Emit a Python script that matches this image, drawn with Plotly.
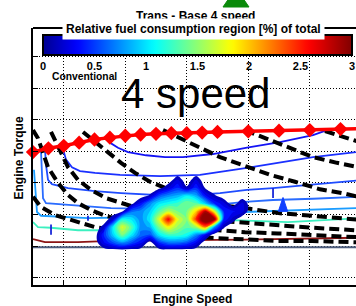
import plotly.graph_objects as go

# ---------------- data ----------------
# full-load (max torque) curve
wot_rpm = [500, 750, 1000, 1250, 1500, 1750, 2000, 2250, 2500, 2750, 3000, 3250, 3500, 4000, 4500, 5000, 5500, 6000]
wot_tq = [199, 205, 209, 214, 219, 222, 225, 227, 228, 229, 229, 230, 231, 232, 233, 234, 235.5, 236.5]

# black dashed lines
d0_rpm = [500, 630, 858, 1118, 1508, 2077, 2728, 3378, 3947, 4484, 5037, 5752, 6000]
d0_tq = [128, 112, 99, 91, 80, 72, 66, 63, 60, 58, 58, 56, 55]
d1_rpm = [500, 581, 663, 744, 907, 1069, 1232, 1443, 1671, 2077, 2565, 3215, 3947, 4484, 5037, 5752, 6000]
d1_tq = [234, 221, 198, 175, 150, 131, 118, 107, 98, 88, 82, 77, 72, 70, 67, 64, 63]
d2_rpm = [793, 955, 1069, 1232, 1443, 1687, 1931, 2240, 2565, 3053, 3541, 3947, 4484, 5037, 5752, 6000]
d2_tq = [231, 198, 175, 155, 139, 126, 118, 109, 101, 94, 90, 87, 82, 79, 75, 74]
d3_rpm = [1313, 1508, 1720, 1931, 2159, 2402, 2728, 3053, 3378, 3703, 4028, 4516, 5037, 5573, 5752, 6000]
d3_tq = [231, 215, 198, 182, 166, 152, 139, 128, 120, 113, 109, 102, 98, 93, 91, 90]
d4_rpm = [2614, 2890, 3215, 3541, 3947, 4354, 4760, 5167, 5573, 5752, 6000]
d4_tq = [234, 221, 206, 191, 177, 163, 152, 140, 133, 129, 126]
d5_rpm = [3947, 4305, 4679, 5053, 5443, 5752, 6000]
d5_tq = [234, 220, 204, 191, 182, 175, 171]
d6_rpm = [5248, 5492, 5752, 6000]
d6_tq = [232.5, 224.6, 216.7, 209]

# solid contour lines
c1_rpm = [1720, 1768, 1882, 2045, 2338, 2646, 2939, 3427, 3980, 4516, 5053, 5281]
c1_tq = [223, 213, 206, 199, 194, 191, 191, 196, 206, 215, 226, 234]
c2_rpm = [972, 1037, 1134, 1264, 1508, 1915, 2565, 3215, 3980, 4516, 5053, 5752, 6000]
c2_tq = [209, 187, 175, 169, 166, 163, 161, 163, 174, 183, 191, 199, 203]
c3_rpm = [695, 711, 744, 809, 1069, 1508, 1931, 2402, 2890, 3541, 3980, 4403, 5053, 5752, 6000]
c3_tq = [204, 179, 155, 148, 142, 137, 134, 131, 129, 134, 139, 142, 147, 153, 156]
c4_rpm = [630, 646, 663, 711, 1069, 1508, 1768, 2402, 3215, 3947, 4403, 5053, 5752, 6000]
c4_tq = [201, 171, 126, 118, 115, 112, 110, 109, 113, 120, 123, 125, 128, 129]
c5_rpm = [516, 549, 565, 630, 955, 1394, 2402, 3215, 3947, 4842, 5752, 6000]
c5_tq = [171, 123, 104, 98, 96, 94.4, 96, 99, 104, 107, 110, 111]
c6_rpm = [500, 581, 793, 1232, 1606, 2400, 3200, 3752, 4646, 5752, 6000]
c6_tq = [88, 80, 79, 75, 75, 77, 82, 91, 88, 94, 95]
c7_rpm = [500, 695, 1232, 1768, 3947, 5752, 6000]
c7_tq = [61, 56, 56, 58, 60, 63, 63.5]
c8_rpm = [500, 6000]
c8_tq = [48, 48]
# short vertical contour fragments
frag_rpm = [793, 793, None, 4403, 4403, None, 1394, 1394]
frag_tq = [84, 68, None, 142, 126, None, 98, 90]

# relative fuel-consumption region (filled contour), values in %
blob_rpm = [1500, 1650, 1800, 1950, 2100, 2250, 2400, 2550, 2700, 2850, 3000, 3150, 3300, 3450, 3600, 3750, 3900, 4050]
blob_tq = [30, 42.5, 55, 67.5, 80, 92.5, 105, 117.5, 130, 142.5, 155, 167.5]
blob_z = [
    [0, 0, 0, 0, 0, 0, 0, 0, 0, 0, 0, 0, 0, 0, 0, 0, 0, 0],
    [0, 0, 0, 0, 0, 0, 0, 0, 0, 0, 0, 0, 0, 0, 0, 0, 0, 0],
    [0, 0.35, 0.6, 0.8, 0.6, 0.4, 0, 0.5, 0.7, 0.7, 0.6, 0.35, 0, 0, 0, 0, 0, 0],
    [0, 0.5, 1.0, 1.5, 1.1, 0.7, 0.6, 1.1, 1.3, 1.3, 1.2, 0.8, 0.35, 0, 0, 0, 0, 0],
    [0, 0.2, 1.1, 1.8, 1.4, 0.8, 0.9, 1.5, 1.9, 1.6, 1.4, 1.6, 2.3, 0.8, 0.15, 0, 0, 0],
    [0, 0, 0.25, 1.2, 1.1, 0.8, 1.1, 1.8, 2.7, 1.8, 1.5, 2.5, 3.4, 3.1, 0.5, 0.2, 0, 0],
    [0, 0, 0, 0.1, 0.7, 0.8, 1.0, 1.4, 1.7, 1.5, 1.5, 2.0, 2.9, 1.8, 0.5, 0.4, 0.3, 0],
    [0, 0, 0, 0, 0.05, 0.4, 0.8, 1.1, 1.2, 1.3, 1.5, 1.4, 1.0, 0.5, 0.3, 0, 0.3, 0],
    [0, 0, 0, 0, 0, 0, 0.15, 0.6, 0.8, 0.9, 1.1, 0.9, 0.4, 0.15, 0, 0, 0, 0],
    [0, 0, 0, 0, 0, 0, 0, 0.05, 0.25, 0.5, 0.15, 0.5, 0.1, 0, 0, 0, 0, 0],
    [0, 0, 0, 0, 0, 0, 0, 0, 0, 0.25, 0, 0.25, 0, 0, 0, 0, 0, 0],
    [0, 0, 0, 0, 0, 0, 0, 0, 0, 0, 0, 0, 0, 0, 0, 0, 0, 0],
]
# small isolated patch of the same region
patch_rpm = [4490, 4565, 4640, 4490]
patch_tq = [105, 127, 105, 105]

cbar_ticks = [0, 0.5, 1, 1.5, 2, 2.5, 3]
cbar_text = ['0', '0.5', '1', '1.5', '2', '2.5', '3']
x_grid = [1000, 2000, 3000, 4000, 5000]
y_grid = [0, 50, 100, 150, 200, 250, 300, 350]

# ---------------- styling helpers ----------------
W, H = 356, 306
ML, MR, MT, MB = 33, 0, 28, 21
PW, PH = W - ML - MR, H - MT - MB
X_RANGE = [500, 5752]
Y_RANGE = [-11.9, 396]
FONT = 'Liberation Sans'


def px(xp):
    return (xp - ML) / PW


def py(yp):
    return (H - MB - yp) / PH


JET = [(0.0, (0, 0, 143)), (0.11, (0, 0, 255)), (0.36, (0, 255, 255)),
       (0.61, (255, 255, 0)), (0.86, (255, 0, 0)), (1.0, (128, 0, 0))]


def jet(t):
    t = min(max(t, 0.0), 1.0)
    for (a, ca), (b, cb) in zip(JET[:-1], JET[1:]):
        if t <= b:
            f = (t - a) / (b - a)
            c = [round(ca[i] + f * (cb[i] - ca[i])) for i in range(3)]
            return 'rgb(%d,%d,%d)' % tuple(c)
    return 'rgb(128,0,0)'


jet_scale = [[i / 60, jet(i / 60)] for i in range(61)]

# contour fill colour map: plotly maps level space (start-size/2 .. end-size/2) onto [0,1]
c_start, c_end, c_size = 0.125, 3.0, 0.125
span = (c_end - c_size / 2) - (c_start - c_size / 2)
blob_scale = [[0.0, 'rgba(255,255,255,0)']]
for i in range(1, 61):
    s = i / 60
    v = (c_start - c_size / 2) + s * span
    blob_scale.append([s, jet(v / 3.0)])
blob_scale[1][0] = 0.001

fig = go.Figure()

dash_style = dict(color='black', width=4, dash='10px,5px')
solid_specs = [
    (c8_rpm, c8_tq, '#4d5d7d'),
    (c7_rpm, c7_tq, '#8b1414'),
    (c6_rpm, c6_tq, '#3cf0c0'),
    (c5_rpm, c5_tq, '#1a9cff'),
    (c4_rpm, c4_tq, '#2a6cff'),
    (c3_rpm, c3_tq, '#1f4cff'),
    (c2_rpm, c2_tq, '#1a30ff'),
    (c1_rpm, c1_tq, '#1414f5'),
    (frag_rpm, frag_tq, '#1a28d8'),
]
for xr, yr, col in solid_specs:
    fig.add_trace(go.Scatter(x=xr, y=yr, mode='lines', line=dict(color=col, width=1.8),
                             connectgaps=False, showlegend=False, hoverinfo='skip'))

for xr, yr in [(d0_rpm, d0_tq), (d1_rpm, d1_tq), (d2_rpm, d2_tq), (d3_rpm, d3_tq),
               (d4_rpm, d4_tq), (d5_rpm, d5_tq), (d6_rpm, d6_tq)]:
    fig.add_trace(go.Scatter(x=xr, y=yr, mode='lines', line=dash_style,
                             showlegend=False, hoverinfo='skip'))

fig.add_trace(go.Scatter(x=wot_rpm, y=wot_tq, mode='lines+markers',
                         line=dict(color='#ff0000', width=3.5),
                         marker=dict(symbol='diamond', size=11, color='#ff0000'),
                         cliponaxis=False, showlegend=False, hoverinfo='skip'))

# filled region on an overlaid axis pair so it sits above the lines
fig.add_trace(go.Contour(x=blob_rpm, y=blob_tq, z=blob_z, xaxis='x2', yaxis='y2',
                         zmin=0, zmax=3, colorscale=blob_scale, showscale=False,
                         contours=dict(start=c_start, end=c_end, size=c_size,
                                       coloring='fill', showlines=False),
                         line=dict(width=0), hoverinfo='skip'))
fig.add_trace(go.Scatter(x=patch_rpm, y=patch_tq, xaxis='x2', yaxis='y2', mode='lines',
                         fill='toself', fillcolor='#1040ff', line=dict(color='#1040ff', width=1),
                         showlegend=False, hoverinfo='skip'))

# colour bar carrier
fig.add_trace(go.Scatter(x=[None], y=[None], mode='markers', showlegend=False, hoverinfo='skip',
                         marker=dict(color=[0], cmin=0, cmax=3, colorscale=jet_scale, showscale=True,
                                     colorbar=dict(orientation='h', xref='paper', yref='paper',
                                                   x=px(197.5), xanchor='center',
                                                   y=py(35), yanchor='top',
                                                   len=309, lenmode='pixels',
                                                   thickness=20, thicknessmode='pixels',
                                                   xpad=0, ypad=0, outlinewidth=2, outlinecolor='black',
                                                   tickvals=cbar_ticks, ticktext=cbar_text, ticks='',
                                                   tickfont=dict(family=FONT, size=11, color='black',
                                                                 weight='bold')))))

axis_common = dict(showticklabels=False, ticks='inside', ticklen=5, tickcolor='black', tickwidth=1,
                   showline=True, linecolor='black', linewidth=2, zeroline=False,
                   showgrid=True, gridcolor='black', gridwidth=1, griddash='1px,2px')

fig.update_layout(
    width=W, height=H,
    margin=dict(l=ML, r=MR, t=MT, b=MB, pad=0, autoexpand=False),
    paper_bgcolor='white', plot_bgcolor='white',
    xaxis=dict(range=X_RANGE, tickvals=x_grid, **axis_common),
    yaxis=dict(range=Y_RANGE, tickvals=y_grid, **axis_common),
    xaxis2=dict(range=X_RANGE, overlaying='x', visible=False),
    yaxis2=dict(range=Y_RANGE, overlaying='y', visible=False),
    showlegend=False,
)

shapes = [
    # hide grid behind the colour bar area
    dict(type='rect', xref='paper', yref='paper', x0=px(34), x1=1.0, y0=py(58), y1=py(29),
         fillcolor='white', line=dict(width=0), layer='between'),
    # top frame line
    dict(type='line', xref='paper', yref='paper', x0=0, x1=1, y0=1, y1=1,
         line=dict(color='black', width=2), layer='above'),
    # green marker at top
    dict(type='path', xref='paper', yref='paper',
         path='M %f %f L %f %f L %f %f Z' % (px(223), py(7), px(249), py(7), px(236), py(-12)),
         fillcolor='#0a8a0a', line=dict(color='#0a8a0a', width=1), layer='above'),
]
for v in [0.5, 1, 1.5, 2, 2.5]:
    xp = 43 + v / 3 * 309
    shapes.append(dict(type='line', xref='paper', yref='paper', x0=px(xp), x1=px(xp),
                       y0=py(55), y1=py(35), line=dict(color='black', width=1, dash='1px,2px'),
                       layer='above'))
fig.update_layout(shapes=shapes)

bold = dict(family=FONT, color='black', weight='bold')
ann = [
    dict(text='Trans - Base 4 speed', x=px(195.5), y=py(16), font=dict(size=12, **bold)),
    dict(text='Relative fuel consumption region [%] of total', x=px(193.5), y=py(29),
         font=dict(size=12, **bold), bgcolor='white', borderpad=3),
    dict(text='Conventional', x=px(84), y=py(76), font=dict(size=10.3, **bold)),
    dict(text='4 speed', x=px(195.5), y=py(93), font=dict(size=42, family=FONT, color='black')),
    dict(text='Engine Speed', x=px(192.7), y=py(299), font=dict(size=12, **bold)),
    dict(text='Engine Torque', x=px(18), y=py(158.5), textangle=-90, font=dict(size=12, **bold)),
]
for a in ann:
    a.update(xref='paper', yref='paper', showarrow=False, xanchor='center', yanchor='middle')
fig.update_layout(annotations=ann)

fig.write_html('out.html', config={'displayModeBar': False, 'staticPlot': True},
               post_script="document.body.style.margin='0';document.body.style.overflow='hidden';")
